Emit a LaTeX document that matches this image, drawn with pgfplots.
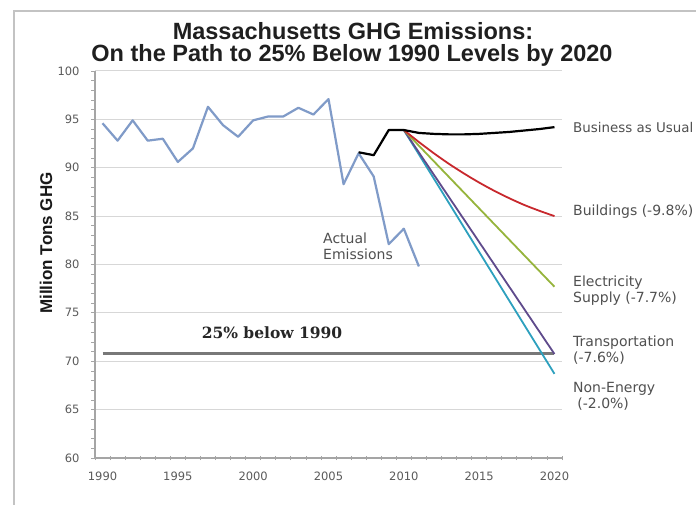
\documentclass[border=0pt]{standalone}
\usepackage{fontspec}
\setmainfont{DejaVu Sans}
\newfontfamily\titlefont{Liberation Sans}
\newfontfamily\serifb{DejaVu Serif}
\usepackage{pgfplots}
\pgfplotsset{compat=1.18}

\definecolor{actual}{RGB}{128,155,200}
\definecolor{bldg}{RGB}{200,40,45}
\definecolor{elec}{RGB}{150,180,60}
\definecolor{trans}{RGB}{95,75,140}
\definecolor{nonen}{RGB}{45,160,190}
\definecolor{goalgray}{RGB}{120,120,120}
\definecolor{gridgray}{RGB}{215,215,215}
\definecolor{axisgray}{RGB}{165,165,165}
\definecolor{framegray}{RGB}{195,195,195}
\definecolor{tickgray}{RGB}{90,90,90}
\definecolor{labgray}{RGB}{80,80,80}

\begin{document}
\begin{tikzpicture}[x=1pt,y=1pt]
\path[use as bounding box] (0,0) rectangle (696,-505);
\fill[white] (0,0) rectangle (696,-505);
\draw[framegray, line width=2.5pt] (14,-506) -- (14,-11) -- (697,-11);

\begin{axis}[
    at={(95pt,-458pt)}, anchor=south west,
    scale only axis, width=467pt, height=387pt,
    xmin=1989.5, xmax=2020.5, ymin=60, ymax=100,
    axis x line*=bottom, axis y line*=left,
    axis line style={axisgray, line width=1.2pt, -},
    xtick={1990,1995,...,2020},
    minor xtick={1989.5,1990.5,...,2020.5},
    ytick={60,65,...,100},
    minor ytick={60,61,...,100},
    major tick length=0pt, minor tick length=4pt,
    xtick align=center, ytick align=outside,
    every tick/.style={axisgray, line width=0.8pt},
    ymajorgrids=true,
    major grid style={gridgray, line width=1pt},
    /pgf/number format/assume math mode=true,
    ticklabel style={font=\fontsize{11.5}{13}\selectfont, text=tickgray},
    xticklabel style={/pgf/number format/1000 sep={}, yshift=-10pt},
    yticklabel style={xshift=-12pt},
    clip=false,
]
\addplot[goalgray, line width=3pt] coordinates {(1990,70.8) (2020,70.8)};

\addplot[actual, line width=2.2pt, line join=round] coordinates {
(1990,94.6) (1991,92.8) (1992,94.9) (1993,92.8) (1994,93.0) (1995,90.6)
(1996,92.0) (1997,96.3) (1998,94.4) (1999,93.2) (2000,94.9) (2001,95.3)
(2002,95.3) (2003,96.2) (2004,95.5) (2005,97.1) (2006,88.3) (2007,91.5)
(2008,89.1) (2009,82.1) (2010,83.7) (2011,79.8)};

\addplot[nonen, line width=1.8pt] coordinates {(2010,93.9) (2020,68.7)};
\addplot[trans, line width=1.8pt] coordinates {(2010,93.9) (2020,70.75)};
\addplot[elec, line width=1.8pt] coordinates {(2010,93.9) (2020,77.7)};
\addplot[bldg, line width=1.8pt, smooth] coordinates {
(2010,93.9) (2011,92.66) (2012,91.49) (2013,90.40) (2014,89.40) (2015,88.47)
(2016,87.62) (2017,86.85) (2018,86.15) (2019,85.55) (2020,85.0)};

\addplot[black, line width=2.2pt, line join=round] coordinates {
(2007,91.6) (2008,91.3) (2009,93.9) (2010,93.9) (2011,93.6) (2012,93.5)
(2013,93.45) (2014,93.45) (2015,93.5) (2016,93.6) (2017,93.7) (2018,93.85)
(2019,94.0) (2020,94.2)};
\end{axis}

% titles and labels
\node[font=\titlefont\bfseries\fontsize{23.5}{26}\selectfont, text=black!88, anchor=base, inner sep=0pt] at (353,-40) {Massachusetts GHG Emissions:};
\node[font=\titlefont\bfseries\fontsize{23.5}{26}\selectfont, text=black!88, anchor=base, inner sep=0pt] at (352,-62) {On the Path to 25\% Below 1990 Levels by 2020};
\node[rotate=90, font=\titlefont\bfseries\fontsize{17}{20}\selectfont, text=black!90] at (46,-243) {Million Tons GHG};

\node[font=\serifb\bfseries\fontsize{15.5}{18}\selectfont, text=black!85] at (272,-333) {25\% below 1990};

\begin{scope}[every node/.style={anchor=west, align=left, font=\fontsize{14}{16}\selectfont, text=labgray, inner sep=0pt}]
\node at (323,-246) {Actual\\Emissions};
\node[font=\fontsize{13.4}{16}\selectfont] at (573,-128) {Business as Usual};
\node at (573,-212) {Buildings (-9.8\%)};
\node at (573,-291) {Electricity\\Supply (-7.7\%)};
\node at (573,-350) {Transportation\\(-7.6\%)};
\node at (573,-396) {Non-Energy\\\hspace{0.3em}(-2.0\%)};
\end{scope}
\end{tikzpicture}
\end{document}
